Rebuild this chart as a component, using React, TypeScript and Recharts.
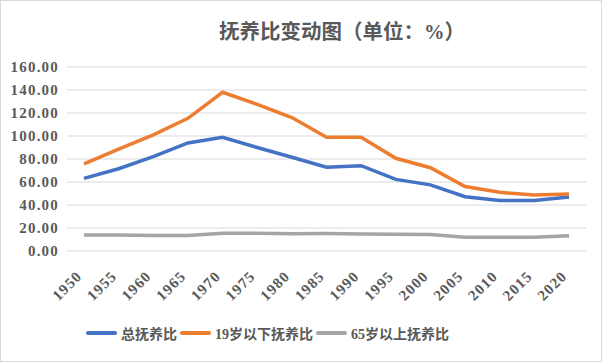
import { LineChart, Line, XAxis, YAxis, CartesianGrid, Legend } from 'recharts';

const years = ['1950', '1955', '1960', '1965', '1970', '1975', '1980', '1985', '1990', '1995', '2000', '2005', '2010', '2015', '2020'];
const total = [63.2, 71.5, 82.0, 94.0, 98.8, 90.0, 81.5, 72.8, 74.2, 62.3, 57.5, 47.2, 44.0, 44.0, 47.0];
const under19 = [75.7, 88.5, 101.0, 115.4, 138.0, 127.5, 116.0, 98.9, 99.0, 80.6, 72.4, 56.0, 51.0, 48.7, 49.6];
const over65 = [13.9, 13.9, 13.5, 13.5, 15.4, 15.4, 15.0, 15.2, 14.8, 14.5, 14.4, 12.0, 12.0, 12.0, 13.3];
const yTicks = [0, 20, 40, 60, 80, 100, 120, 140, 160];

const data = years.map((year, i) => ({
  year,
  total: total[i],
  under19: under19[i],
  over65: over65[i],
}));

const series = [
  { key: 'total', name: '总抚养比', color: '#4472C4' },
  { key: 'under19', name: '19岁以下抚养比', color: '#ED7D31' },
  { key: 'over65', name: '65岁以上抚养比', color: '#A5A5A5' },
];

const FONT = "'Liberation Serif', 'Times New Roman', 'Noto Sans CJK SC', serif";

const YearTick = ({ x, y, payload }: any) => {
  const ax = x - 1;
  const ay = y + 18;
  return (
    <text
      x={ax}
      y={ay}
      transform={`rotate(-45, ${ax}, ${ay})`}
      textAnchor="end"
      style={{ fontFamily: FONT, fontSize: 15, fontWeight: 700, letterSpacing: 1.2 }}
      fill="#595959"
    >
      {payload.value}
    </text>
  );
};

const LegendContent = () => (
  <div style={{ display: 'flex', alignItems: 'center', paddingLeft: 86, height: 36, fontFamily: FONT }}>
    {series.map((s) => (
      <div key={s.key} style={{ display: 'flex', alignItems: 'center' }}>
        <div style={{ width: 31, height: 4, borderRadius: 2, background: s.color, marginRight: 4 }} />
        <span style={{ fontSize: 14, fontWeight: 700, color: '#595959', marginRight: 3 }}>{s.name}</span>
      </div>
    ))}
  </div>
);

const App = () => {
  return (
    <div
      style={{
        position: 'fixed',
        left: 0,
        top: 0,
        width: 602,
        height: 362,
        boxSizing: 'border-box',
        border: '1px solid #d9d9d9',
        background: '#fff',
      }}
    >
      <div
        style={{
          position: 'absolute',
          left: 218,
          top: 14,
          fontSize: 20.5,
          fontWeight: 700,
          color: '#595959',
          fontFamily: FONT,
          whiteSpace: 'nowrap',
        }}
      >
        抚养比变动图（单位：%）
      </div>
      <div style={{ position: 'absolute', left: -1, top: -1 }}>
        <LineChart width={602} height={362} data={data} margin={{ top: 67, right: 16, left: 0, bottom: 11 }}>
          <CartesianGrid stroke="#d9d9d9" vertical={false} />
          <XAxis
            dataKey="year"
            axisLine={false}
            tickLine={false}
            interval={0}
            height={64}
            padding={{ left: 17, right: 17 }}
            tick={<YearTick />}
          />
          <YAxis
            width={67}
            domain={[0, 160]}
            ticks={yTicks}
            axisLine={false}
            tickLine={false}
            tickFormatter={(v: number) => v.toFixed(2)}
            tick={{ fontSize: 15, fontWeight: 700, fill: '#595959', style: { fontFamily: FONT, letterSpacing: 1.2 } }}
          />
          {series.map((s) => (
            <Line
              key={s.key}
              type="linear"
              dataKey={s.key}
              name={s.name}
              stroke={s.color}
              strokeWidth={3.5}
              dot={false}
              isAnimationActive={false}
            />
          ))}
          <Legend verticalAlign="bottom" height={36} content={() => <LegendContent />} />
        </LineChart>
      </div>
    </div>
  );
};

export default App;
